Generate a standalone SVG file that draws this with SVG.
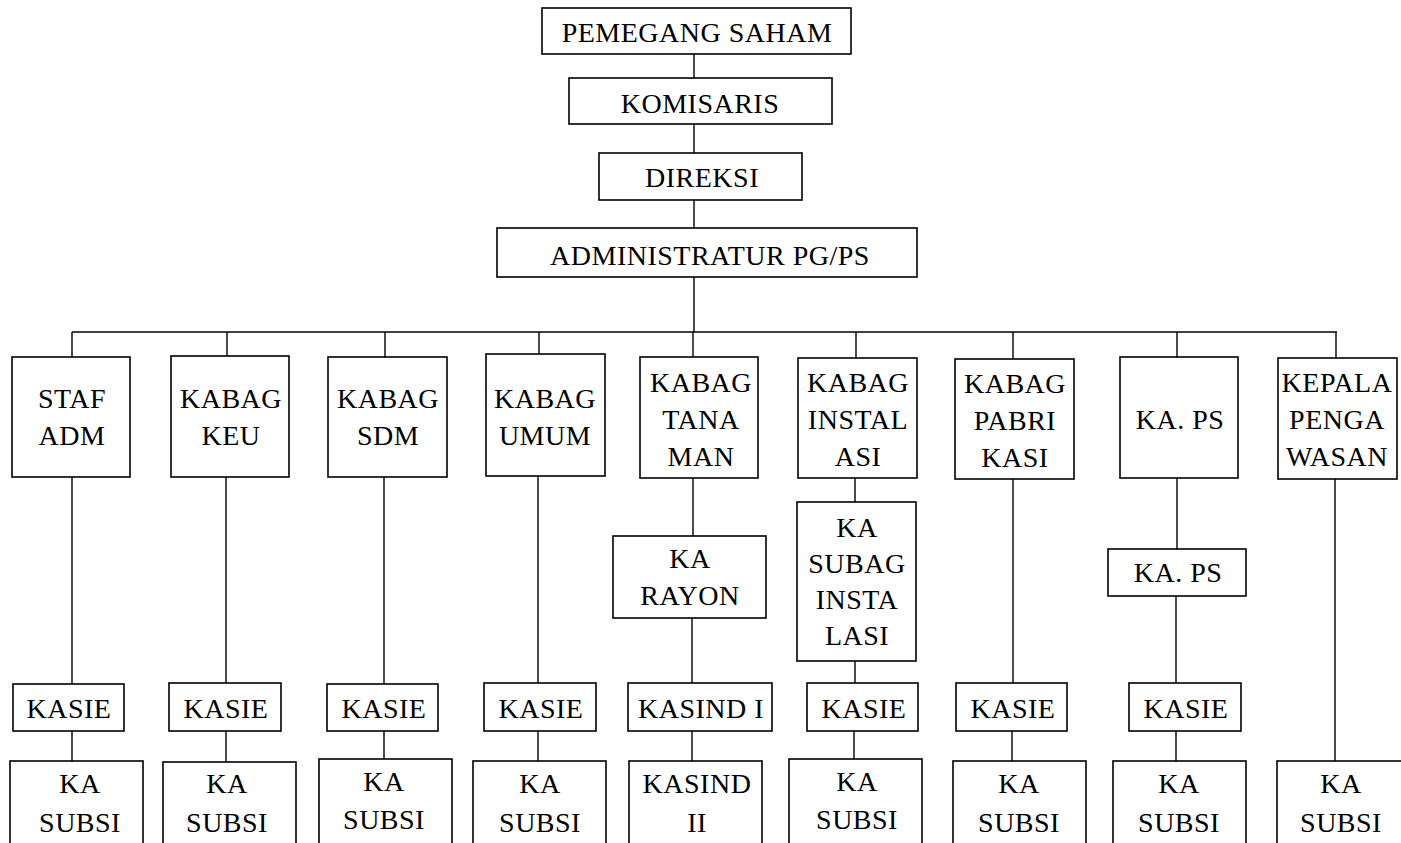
<svg xmlns="http://www.w3.org/2000/svg" width="1401" height="843" viewBox="0 0 1401 843">
<style>
rect{fill:#fff;stroke:#000;stroke-width:1.6}
text{font-family:"Liberation Serif","Times New Roman",serif;font-size:28px;fill:#000;text-anchor:middle;letter-spacing:0.5px}
.c line{stroke:#000;stroke-width:1.4}
</style>
<rect x="0" y="0" width="1401" height="843" style="stroke:none"/>
<g class="c" id="connectors">
<line x1="694" y1="54" x2="694" y2="78"/>
<line x1="694" y1="124" x2="694" y2="153"/>
<line x1="694" y1="200" x2="694" y2="228"/>
<line x1="694" y1="277" x2="694" y2="332"/>
<line x1="72" y1="332" x2="1337" y2="332"/>
<line x1="72" y1="332" x2="72" y2="357"/>
<line x1="227" y1="332" x2="227" y2="356"/>
<line x1="385" y1="332" x2="385" y2="357"/>
<line x1="539" y1="332" x2="539" y2="354"/>
<line x1="693" y1="332" x2="693" y2="357"/>
<line x1="856" y1="332" x2="856" y2="358"/>
<line x1="1013" y1="332" x2="1013" y2="359"/>
<line x1="1177" y1="332" x2="1177" y2="357"/>
<line x1="1336" y1="332" x2="1336" y2="358"/>
<line x1="72" y1="477" x2="72" y2="684"/>
<line x1="72" y1="731" x2="72" y2="761"/>
<line x1="226" y1="477" x2="226" y2="683"/>
<line x1="226" y1="731" x2="226" y2="762"/>
<line x1="384" y1="477" x2="384" y2="684"/>
<line x1="384" y1="731" x2="384" y2="759"/>
<line x1="538" y1="476" x2="538" y2="683"/>
<line x1="538" y1="731" x2="538" y2="761"/>
<line x1="693" y1="478" x2="693" y2="536"/>
<line x1="692" y1="618" x2="692" y2="683"/>
<line x1="692" y1="731" x2="692" y2="761"/>
<line x1="855" y1="478" x2="855" y2="502"/>
<line x1="855" y1="661" x2="855" y2="683"/>
<line x1="854" y1="731" x2="854" y2="759"/>
<line x1="1013" y1="479" x2="1013" y2="683"/>
<line x1="1012" y1="731" x2="1012" y2="761"/>
<line x1="1177" y1="478" x2="1177" y2="549"/>
<line x1="1176" y1="596" x2="1176" y2="683"/>
<line x1="1176" y1="731" x2="1176" y2="761"/>
<line x1="1335" y1="479" x2="1335" y2="761"/>
</g>
<g id="pemegang-saham"><rect x="542" y="8" width="309" height="46"/><text x="697" y="42">PEMEGANG SAHAM</text></g>
<g id="komisaris"><rect x="569" y="78" width="263" height="46"/><text x="700" y="113">KOMISARIS</text></g>
<g id="direksi"><rect x="599" y="153" width="203" height="47"/><text x="702" y="187">DIREKSI</text></g>
<g id="administratur"><rect x="497" y="228" width="420" height="49"/><text x="710" y="265">ADMINISTRATUR PG/PS</text></g>

<g id="staf-adm"><rect x="12" y="357" width="118" height="120"/><text x="72" y="408">STAF</text><text x="72" y="445">ADM</text></g>
<g id="kabag-keu"><rect x="171" y="356" width="118" height="121"/><text x="231" y="408">KABAG</text><text x="231" y="445">KEU</text></g>
<g id="kabag-sdm"><rect x="328" y="357" width="119" height="120"/><text x="388" y="408">KABAG</text><text x="388" y="445">SDM</text></g>
<g id="kabag-umum"><rect x="486" y="354" width="119" height="122"/><text x="545" y="408">KABAG</text><text x="545" y="445">UMUM</text></g>
<g id="kabag-tanaman"><rect x="640" y="357" width="118" height="121"/><text x="701" y="392">KABAG</text><text x="701" y="429">TANA</text><text x="701" y="466">MAN</text></g>
<g id="kabag-instalasi"><rect x="798" y="358" width="119" height="120"/><text x="858" y="392">KABAG</text><text x="858" y="429">INSTAL</text><text x="858" y="466">ASI</text></g>
<g id="kabag-pabrikasi"><rect x="955" y="359" width="119" height="120"/><text x="1015" y="393">KABAG</text><text x="1015" y="430">PABRI</text><text x="1015" y="467">KASI</text></g>
<g id="ka-ps"><rect x="1120" y="357" width="118" height="121"/><text x="1180" y="429">KA. PS</text></g>
<g id="kepala-pengawasan"><rect x="1278" y="358" width="119" height="121"/><text x="1337" y="392">KEPALA</text><text x="1337" y="429">PENGA</text><text x="1337" y="466">WASAN</text></g>

<g id="ka-rayon"><rect x="613" y="536" width="153" height="82"/><text x="690" y="568">KA</text><text x="690" y="605">RAYON</text></g>
<g id="ka-subag-instalasi"><rect x="797" y="502" width="119" height="159"/><text x="857" y="537">KA</text><text x="857" y="573">SUBAG</text><text x="857" y="609">INSTA</text><text x="857" y="645">LASI</text></g>
<g id="ka-ps-2"><rect x="1108" y="549" width="138" height="47"/><text x="1178" y="582">KA. PS</text></g>

<g id="kasie-1"><rect x="13" y="684" width="111" height="47"/><text x="69" y="718">KASIE</text></g>
<g id="kasie-2"><rect x="169" y="683" width="112" height="48"/><text x="226" y="718">KASIE</text></g>
<g id="kasie-3"><rect x="327" y="684" width="111" height="47"/><text x="384" y="718">KASIE</text></g>
<g id="kasie-4"><rect x="484" y="683" width="112" height="48"/><text x="541" y="718">KASIE</text></g>
<g id="kasind-1"><rect x="628" y="683" width="144" height="48"/><text x="701" y="718">KASIND I</text></g>
<g id="kasie-6"><rect x="807" y="683" width="111" height="48"/><text x="864" y="718">KASIE</text></g>
<g id="kasie-7"><rect x="956" y="683" width="111" height="48"/><text x="1013" y="718">KASIE</text></g>
<g id="kasie-8"><rect x="1129" y="683" width="112" height="48"/><text x="1186" y="718">KASIE</text></g>

<g id="ka-subsi-1"><rect x="10" y="761" width="133" height="90"/><text x="80" y="793">KA</text><text x="80" y="832">SUBSI</text></g>
<g id="ka-subsi-2"><rect x="163" y="762" width="133" height="90"/><text x="227" y="793">KA</text><text x="227" y="832">SUBSI</text></g>
<g id="ka-subsi-3"><rect x="319" y="759" width="133" height="90"/><text x="384" y="791">KA</text><text x="384" y="829">SUBSI</text></g>
<g id="ka-subsi-4"><rect x="473" y="761" width="133" height="90"/><text x="540" y="793">KA</text><text x="540" y="832">SUBSI</text></g>
<g id="kasind-2"><rect x="629" y="761" width="133" height="90"/><text x="697" y="793">KASIND</text><text x="697" y="832">II</text></g>
<g id="ka-subsi-6"><rect x="789" y="759" width="133" height="90"/><text x="857" y="791">KA</text><text x="857" y="829">SUBSI</text></g>
<g id="ka-subsi-7"><rect x="953" y="761" width="133" height="90"/><text x="1019" y="793">KA</text><text x="1019" y="832">SUBSI</text></g>
<g id="ka-subsi-8"><rect x="1113" y="761" width="133" height="90"/><text x="1179" y="793">KA</text><text x="1179" y="832">SUBSI</text></g>
<g id="ka-subsi-9"><rect x="1277" y="761" width="130" height="90"/><text x="1341" y="793">KA</text><text x="1341" y="832">SUBSI</text></g>
</svg>
